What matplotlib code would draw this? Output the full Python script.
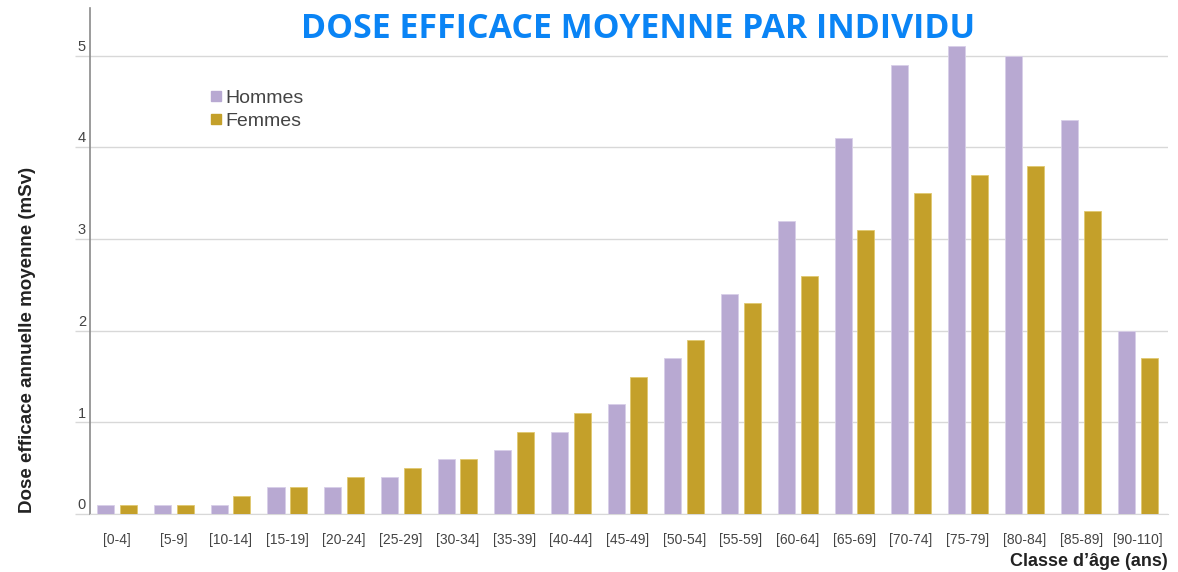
import matplotlib.pyplot as plt
import numpy as np
from matplotlib.lines import Line2D
import matplotlib.transforms as mtransforms

classes = ['[0-4]', '[5-9]', '[10-14]', '[15-19]', '[20-24]', '[25-29]', '[30-34]',
           '[35-39]', '[40-44]', '[45-49]', '[50-54]', '[55-59]', '[60-64]', '[65-69]',
           '[70-74]', '[75-79]', '[80-84]', '[85-89]', '[90-110]']
hommes = [0.1, 0.1, 0.1, 0.3, 0.3, 0.4, 0.6, 0.7, 0.9, 1.2, 1.7, 2.4, 3.2, 4.1,
          4.9, 5.1, 5.0, 4.3, 2.0]
femmes = [0.1, 0.1, 0.2, 0.3, 0.4, 0.5, 0.6, 0.9, 1.1, 1.5, 1.9, 2.3, 2.6, 3.1,
          3.5, 3.7, 3.8, 3.3, 1.7]
yticks = [0, 1, 2, 3, 4, 5]

col_h = '#b8a9d2'
col_f = '#c4a02a'
grey = '#444444'

plt.rcParams['font.family'] = ['Liberation Sans', 'DejaVu Sans']

fig = plt.figure(figsize=(11.78, 5.72), dpi=100)
ax = fig.add_axes([90/1178, 1 - 514/572, 1078/1178, 506/572])

x = np.arange(len(classes))
w = 0.3
ax.bar(x - 0.2, hommes, w, color=col_h, edgecolor='#d8cfe8', linewidth=0.6, zorder=3)
ax.bar(x + 0.2, femmes, w, color=col_f, edgecolor='#e0c870', linewidth=0.6, zorder=3)

ax.set_xlim(-0.48, 18.53)
ax.set_ylim(0, 5.52)

ax.set_yticks(yticks)
ax.set_yticklabels([])
ax.tick_params(axis='y', length=11, color='#d8d8d8', width=1)
ax.grid(axis='y', color='#d8d8d8', linewidth=1, zorder=0)
ax.set_xticks(x)
ax.set_xticklabels(classes, fontsize=10, color=grey)
ax.tick_params(axis='x', length=0, pad=14)

for s in ['top', 'right']:
    ax.spines[s].set_visible(False)
ax.spines['left'].set_color('#8a8a8a')
ax.spines['left'].set_linewidth(1.2)
ax.spines['bottom'].set_color('#d8d8d8')

trans = mtransforms.blended_transform_factory(fig.transFigure, ax.transData)
for v in yticks:
    ax.text(86/1178, v + 0.02, str(v), transform=trans, ha='right', va='bottom',
            fontsize=10.5, color=grey)

handles = [Line2D([], [], marker='s', linestyle='', markersize=7, color=col_h),
           Line2D([], [], marker='s', linestyle='', markersize=7, color=col_f)]
ax.legend(handles, ['Hommes', 'Femmes'], loc='upper left', bbox_to_anchor=(0.103, 0.855),
          frameon=False, fontsize=14, labelcolor=grey, handletextpad=0.15,
          labelspacing=0.3, handlelength=0.7, borderaxespad=0)

fig.text(638/1178, 1 - 29/572, 'DOSE EFFICACE MOYENNE PAR INDIVIDU', ha='center',
         va='center', fontsize=24.4, fontweight='bold', color='#0a84f5',
         family='Open Sans')
fig.text(28/1178, 1 - 340/572, 'Dose efficace annuelle moyenne (mSv)', rotation=90,
         ha='center', va='center', fontsize=13.5, fontweight='bold', color='#222222')
fig.text(1168/1178, 1 - 562/572, 'Classe d\u2019âge (ans)', ha='right', va='center',
         fontsize=13, fontweight='bold', color='#222222')

fig.savefig('out.png', dpi=100)
